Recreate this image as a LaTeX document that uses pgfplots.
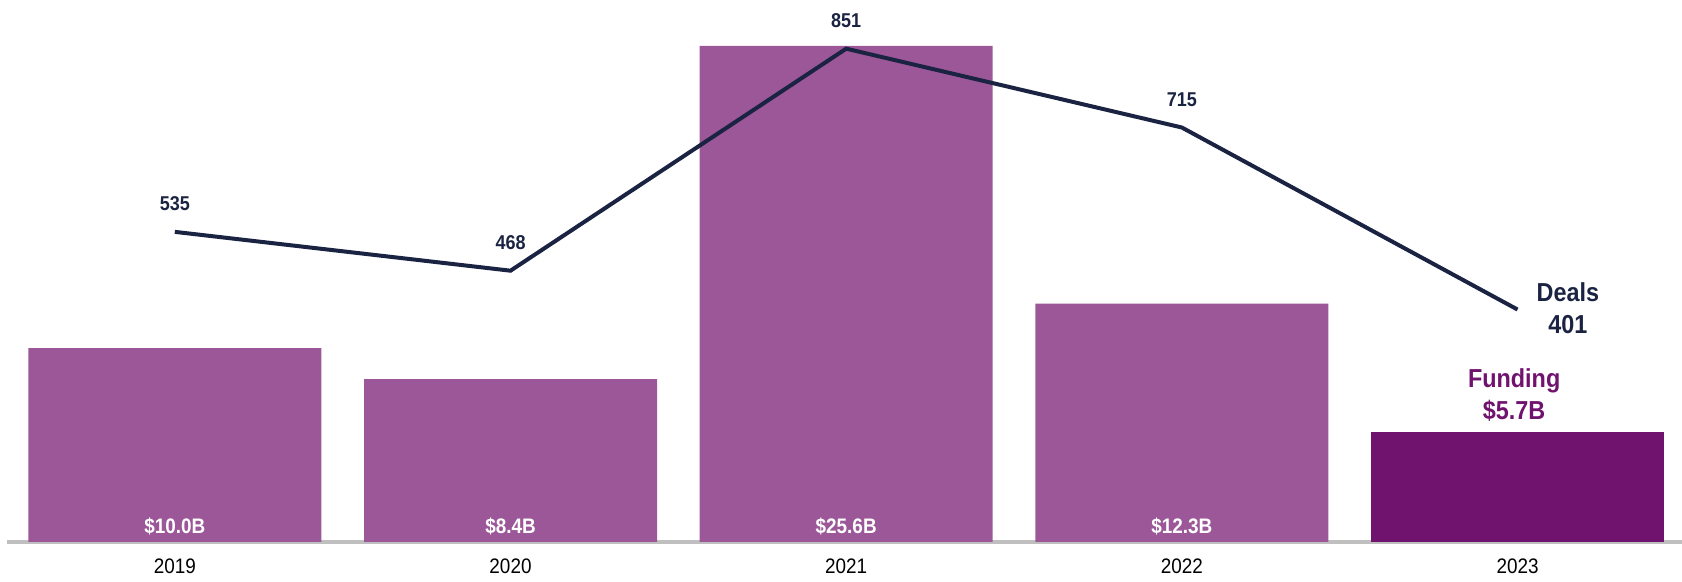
\documentclass[border=0pt]{standalone}
\usepackage{fontspec}
\setmainfont{Liberation Sans}[FakeStretch=0.9]
\usepackage{pgfplots}
\pgfplotsset{compat=1.18}
\definecolor{barpurple}{HTML}{9C5799}
\definecolor{darkpurple}{HTML}{70136E}
\definecolor{navy}{HTML}{1A2342}
\definecolor{axisgray}{HTML}{BFBFBF}
\begin{document}
\begin{tikzpicture}
\begin{axis}[
  at={(0,0)}, anchor=south west,
  width=837.5pt, height=271pt, scale only axis,
  xmin=-0.5, xmax=4.49, ymin=0, ymax=27.97,
  axis x line=bottom, axis y line=none,
  axis line style={axisgray, line width=1.6pt, -},
  xtick={0,1,2,3,4}, xticklabels={2019,2020,2021,2022,2023},
  major tick length=0pt,
  xticklabel style={font=\fontsize{10.5}{12}\selectfont, text=black, yshift=-5pt},
  ytick=\empty,
  ybar, bar width=146.5pt, bar shift=0pt,
  clip=false,
]
\addplot[fill=barpurple, draw=none] coordinates {(0,10.0) (1,8.4) (2,25.6) (3,12.3)};
\addplot[fill=darkpurple, draw=none] coordinates {(4,5.7)};
\foreach \x/\lab in {0/\$10.0B,1/\$8.4B,2/\$25.6B,3/\$12.3B}{
  \edef\tmp{\noexpand\node[text=white, font=\noexpand\bfseries\noexpand\fontsize{10.5}{12}\noexpand\selectfont] at (axis cs:\x,0.8) {\lab};}\tmp
}
\node[text=darkpurple, font=\bfseries\fontsize{13}{16}\selectfont, align=center] at (axis cs:3.99,7.6) {Funding\\\$5.7B};
\end{axis}
\begin{axis}[
  at={(0,0)}, anchor=south west,
  width=837.5pt, height=271pt, scale only axis,
  xmin=-0.5, xmax=4.49, ymin=0, ymax=935,
  hide axis, clip=false,
]
\addplot[navy, line width=2pt, line join=miter, mark=none,
  nodes near coords, point meta=explicit symbolic,
  every node near coord/.append style={font=\bfseries\fontsize{10}{12}\selectfont, text=navy, yshift=6pt}]
  coordinates {(0,535)[535] (1,468)[468] (2,851)[851] (3,715)[715] (4,401)[]};
\node[text=navy, font=\bfseries\fontsize{13}{16}\selectfont, align=center] at (axis cs:4.15,404) {Deals\\401};
\end{axis}
\pgfresetboundingbox
\path[use as bounding box] (-3.5pt,-20pt) rectangle (837.5pt,271pt);
\end{tikzpicture}
\end{document}
